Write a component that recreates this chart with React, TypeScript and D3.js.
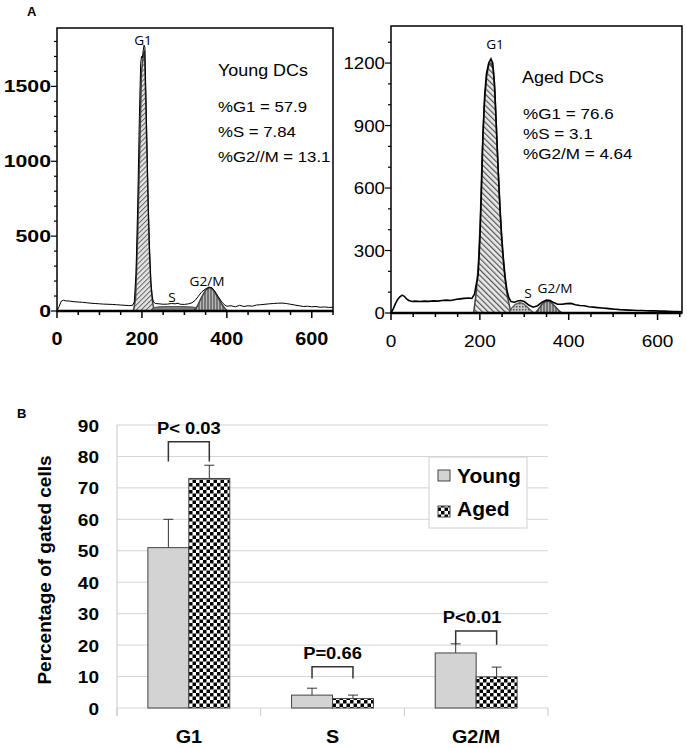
import React from "react";
import * as d3 from "d3";

// ---- panel A: DNA content histograms (channel, count) ----
const youngHist: [number, number][] = [
  [0, 0], [5, 30], [10, 65], [15, 72], [20, 68], [30, 66], [40, 62], [50, 60], [60, 58], [70, 55],
  [80, 52], [90, 50], [100, 48], [110, 46], [120, 45], [130, 44], [140, 42], [150, 40], [160, 38],
  [170, 36], [178, 38], [182, 60], [186, 250], [190, 700], [194, 1300], [197, 1650], [199, 1700],
  [201, 1690], [203, 1740], [205, 1775], [207, 1760], [209, 1500], [212, 1100], [215, 700], [218, 400],
  [221, 200], [224, 100], [227, 60], [232, 50], [240, 48], [250, 45], [260, 46], [270, 50], [278, 48],
  [285, 52], [290, 45], [300, 44], [310, 48], [318, 55], [325, 70], [332, 95], [340, 125], [350, 148],
  [358, 160], [365, 155], [372, 130], [380, 95], [388, 60], [395, 40], [400, 32], [410, 35], [420, 28],
  [430, 38], [440, 30], [450, 35], [460, 32], [470, 40], [480, 42], [490, 45], [500, 48], [510, 50],
  [520, 52], [530, 53], [540, 50], [550, 45], [560, 40], [570, 35], [580, 30], [590, 32], [600, 28],
  [610, 30], [620, 25], [630, 27], [640, 24], [650, 25]
];
const youngG1: [number, number][] = [
  [180, 0], [185, 80], [190, 500], [195, 1100], [199, 1600], [203, 1700], [206, 1740], [209, 1400],
  [213, 900], [217, 450], [221, 180], [225, 60], [229, 0]
];
const youngS: [number, number][] = [
  [222, 0], [228, 22], [240, 28], [260, 30], [280, 30], [300, 29], [320, 26], [335, 15], [340, 0]
];
const youngG2: [number, number][] = [
  [322, 0], [330, 30], [340, 90], [350, 140], [358, 155], [365, 150], [372, 125], [380, 85], [388, 45],
  [396, 15], [402, 0]
];

const agedHist: [number, number][] = [
  [0, 0], [5, 20], [10, 45], [15, 65], [20, 78], [25, 86], [30, 80], [35, 68], [40, 60], [47, 55],
  [55, 57], [65, 55], [75, 57], [85, 56], [95, 58], [105, 57], [115, 60], [125, 62], [135, 60],
  [145, 65], [155, 68], [165, 70], [175, 72], [182, 70], [188, 90], [192, 140], [196, 180], [200, 350],
  [204, 620], [207, 860], [211, 1050], [215, 1150], [220, 1200], [225, 1220], [229, 1200], [233, 1100],
  [237, 900], [241, 700], [245, 520], [249, 370], [253, 260], [257, 170], [261, 110], [265, 75],
  [270, 55], [278, 52], [285, 58], [292, 60], [300, 55], [310, 38], [320, 28], [330, 35], [340, 52],
  [350, 62], [358, 60], [366, 50], [375, 42], [385, 42], [395, 45], [405, 46], [415, 40], [425, 36],
  [435, 35], [445, 30], [455, 28], [465, 26], [475, 24], [485, 22], [495, 20], [505, 18], [515, 16],
  [525, 15], [535, 14], [545, 13], [555, 12], [565, 12], [575, 11], [585, 10], [595, 10], [605, 9],
  [615, 9], [625, 8], [635, 7], [645, 7], [655, 6]
];
const agedG1: [number, number][] = [
  [186, 0], [192, 100], [197, 250], [201, 450], [205, 750], [210, 1000], [215, 1130], [220, 1190],
  [225, 1200], [230, 1170], [234, 1050], [238, 850], [242, 650], [246, 470], [250, 330], [254, 220],
  [258, 140], [262, 80], [266, 40], [270, 0]
];
const agedS: [number, number][] = [
  [265, 0], [272, 25], [280, 42], [290, 50], [298, 45], [306, 30], [315, 12], [322, 0]
];
const agedG2: [number, number][] = [
  [325, 0], [332, 20], [340, 42], [348, 55], [355, 56], [362, 48], [370, 30], [378, 12], [385, 0]
];

const youngStats = ["%G1 = 57.9", "%S = 7.84", "%G2//M = 13.1"];
const agedStats = ["%G1 = 76.6", "%S = 3.1", "%G2/M = 4.64"];
const youngYTicks = [0, 500, 1000, 1500];
const agedYTicks = [0, 300, 600, 900, 1200];
const xTicks = [0, 200, 400, 600];

// ---- panel B: bar chart ----
const phases = ["G1", "S", "G2/M"];
const groups = ["Young", "Aged"];
const youngPct = [51, 4.1, 17.5];
const agedPct = [73, 3, 9.9];
const youngErr = [9, 2.2, 2.9];
const agedErr = [4.2, 1.1, 3.1];
const pLabels = ["P< 0.03", "P=0.66", "P<0.01"];
const bracketTop = [84.7, 13.1, 24.5];
const bracketLeg = [78.4, 9.4, 20.1];
const pctTicks = [0, 10, 20, 30, 40, 50, 60, 70, 80, 90];

const SANS = "'Liberation Sans', Arial, sans-serif";

function T(props: any) {
  const { x, y, sx = 1, anchor = "start", size = 14, weight = "normal", family = SANS, fill = "#000", children } = props;
  return (
    <text transform={`translate(${x},${y}) scale(${sx},1)`} textAnchor={anchor} fontSize={size}
      fontWeight={weight} fontFamily={family} fill={fill}>{children}</text>
  );
}

function Histogram(props: any) {
  const { x, y, hist, g1, s, g2, yTicks, yMinor, g1Fill, sFill, g2Fill, bold, stats, title, titleX, statX,
    statY, statGap, statSize, statSx, labels, lineW, yLab, xLab } = props;
  const line = d3.line<[number, number]>().x(d => x(d[0])).y(d => y(d[1]));
  const area = d3.area<[number, number]>().x(d => x(d[0])).y0(y(0)).y1(d => y(d[1]));
  const [x0, x1] = x.range();
  const [y0, y1] = y.range();
  const minorX = d3.range(0, x.domain()[1] + 1, 50);
  const minorY = d3.range(0, y.domain()[1], yMinor);
  const fw = bold ? "bold" : "normal";
  return (
    <g>
      <path d={area(g1) || ""} fill={g1Fill} stroke="#444" strokeWidth={1.5} />
      <path d={area(s) || ""} fill={sFill} stroke="#555" strokeWidth={1.2} />
      <path d={area(g2) || ""} fill={g2Fill} stroke="#444" strokeWidth={1.5} />
      <path d={line(hist) || ""} fill="none" stroke="#000" strokeWidth={lineW} />
      <rect x={x0} y={y1} width={x1 - x0} height={y0 - y1} fill="none" stroke="#000" strokeWidth={1.5} />
      <line x1={x0} x2={x1} y1={y0} y2={y0} stroke="#000" strokeWidth={2.5} />
      {minorX.map(v => (
        <line key={"mx" + v} x1={x(v)} x2={x(v)} y1={y0} y2={y0 + (v % 200 === 0 ? 7 : 4)} stroke="#000" strokeWidth={1.5} />
      ))}
      {minorY.map(v => (
        <line key={"my" + v} x1={x0} x2={x0 - (yTicks.includes(v) ? 6 : 3)} y1={y(v)} y2={y(v)} stroke="#000" strokeWidth={1.2} />
      ))}
      {yTicks.map((v: number) => (
        <T key={"yt" + v} x={x0 - 6} y={y(v) + 6} anchor="end" size={yLab.size} weight={fw} sx={yLab.sx}>{v}</T>
      ))}
      {xTicks.map(v => (
        <T key={"xt" + v} x={x(v)} y={xLab.base} anchor="middle" size={xLab.size} weight={fw} sx={xLab.sx}>{v}</T>
      ))}
      <T x={titleX} y={statY - 36} size={16} sx={1.12}>{title}</T>
      {stats.map((t: string, i: number) => (
        <T key={t} x={statX} y={statY + i * statGap} size={statSize} sx={statSx}>{t}</T>
      ))}
      {labels.map((l: any) => (
        <T key={l.t} x={l.x} y={l.y} anchor="middle" size={13} family="'Open Sans', sans-serif" sx={1.05}>{l.t}</T>
      ))}
    </g>
  );
}

export default function App() {
  const xL = d3.scaleLinear().domain([0, 650]).range([57, 333]);
  const yL = d3.scaleLinear().domain([0, 1890]).range([311, 28]);
  const xR = d3.scaleLinear().domain([0, 655]).range([391, 682]);
  const yR = d3.scaleLinear().domain([0, 1378]).range([313, 26]);

  const xB = d3.scaleBand().domain(phases).range([117, 548]).paddingInner(0.43).paddingOuter(0.215);
  const xG = d3.scaleBand().domain(groups).range([0, xB.bandwidth()]);
  const yB = d3.scaleLinear().domain([0, 90]).range([708, 425]);
  const bw = xG.bandwidth();
  const cx = (p: string, g: string) => (xB(p) || 0) + (xG(g) || 0) + bw / 2;
  const bounds = [117, ...phases.map(p => (xB(p) || 0) + xB.bandwidth() + (xB.step() - xB.bandwidth()) / 2)];

  return (
    <svg width={687} height={748} style={{ position: "absolute", left: 0, top: 0, background: "#fff" }}>
      <defs>
        <pattern id="hatchUp" width={3.5} height={3.5} patternUnits="userSpaceOnUse" patternTransform="rotate(45)">
          <rect width={3.5} height={3.5} fill="#e4e4e4" />
          <line x1={0.5} y1={0} x2={0.5} y2={3.5} stroke="#666" strokeWidth={1} />
        </pattern>
        <pattern id="hatchDown" width={4} height={4} patternUnits="userSpaceOnUse" patternTransform="rotate(-45)">
          <rect width={4} height={4} fill="#e8e8e8" />
          <line x1={0.6} y1={0} x2={0.6} y2={4} stroke="#555" strokeWidth={1.2} />
        </pattern>
        <pattern id="vstripe" width={3} height={3} patternUnits="userSpaceOnUse">
          <rect width={3} height={3} fill="#b8b8b8" />
          <line x1={1} y1={0} x2={1} y2={3} stroke="#333" strokeWidth={1} />
        </pattern>
        <pattern id="dots" width={3} height={3} patternUnits="userSpaceOnUse">
          <rect width={3} height={3} fill="#c8c8c8" />
          <rect width={1.5} height={1.5} fill="#555" />
        </pattern>
        <pattern id="checker" width={7} height={7} patternUnits="userSpaceOnUse" x={0} y={0}>
          <rect width={7} height={7} fill="#fff" />
          <rect width={3.5} height={3.5} fill="#000" />
          <rect x={3.5} y={3.5} width={3.5} height={3.5} fill="#000" />
        </pattern>
      </defs>

      <T x={27} y={16} size={13} weight="bold">A</T>
      <Histogram x={xL} y={yL} hist={youngHist} g1={youngG1} s={youngS} g2={youngG2}
        yTicks={youngYTicks} yMinor={100} g1Fill="url(#hatchUp)" sFill="#808080" g2Fill="url(#vstripe)"
        bold={true} stats={youngStats} title="Young DCs" titleX={218} statX={218} statY={112} statGap={25}
        statSize={15} statSx={1.12} lineW={1}
        yLab={{ size: 17, sx: 1.25 }} xLab={{ size: 18, sx: 1.1, base: 345 }}
        labels={[{ t: "G1", x: 143, y: 45 }, { t: "S", x: 172, y: 302 }, { t: "G2/M", x: 207, y: 286 }]} />
      <Histogram x={xR} y={yR} hist={agedHist} g1={agedG1} s={agedS} g2={agedG2}
        yTicks={agedYTicks} yMinor={100} g1Fill="url(#hatchDown)" sFill="url(#dots)" g2Fill="url(#vstripe)"
        bold={false} stats={agedStats} title="Aged DCs" titleX={522} statX={523} statY={119} statGap={20}
        statSize={14} statSx={1.22} lineW={1.6}
        yLab={{ size: 17, sx: 1.1 }} xLab={{ size: 17, sx: 1.12, base: 347 }}
        labels={[{ t: "G1", x: 495, y: 49 }, { t: "S", x: 528, y: 298 }, { t: "G2/M", x: 555, y: 293 }]} />

      {/* panel B */}
      <T x={17} y={418} size={13} weight="bold">B</T>
      {pctTicks.map(v => (
        <g key={"g" + v}>
          <line x1={117} x2={548} y1={yB(v)} y2={yB(v)} stroke="#d4d4d4" strokeWidth={1} />
          <T x={99} y={yB(v) + 6.5} anchor="end" size={17} weight="bold" sx={1.12}>{v}</T>
        </g>
      ))}
      <line x1={117} x2={117} y1={yB(90)} y2={yB(0) + 8} stroke="#c8c8c8" strokeWidth={1} />
      {bounds.map(b => (
        <line key={"b" + b} x1={b} x2={b} y1={yB(0)} y2={yB(0) + 8} stroke="#c8c8c8" strokeWidth={1} />
      ))}
      <text transform="translate(51,570) rotate(-90)" textAnchor="middle" fontSize={19} fontWeight="bold"
        fontFamily={SANS}>Percentage of gated cells</text>

      {phases.map((p, i) => (
        <g key={p}>
          {[youngPct[i], agedPct[i]].map((v, j) => {
            const g = groups[j];
            const e = j === 0 ? youngErr[i] : agedErr[i];
            const c = cx(p, g);
            return (
              <g key={g}>
                <line x1={c} x2={c} y1={yB(v)} y2={yB(v + e)} stroke="#333" strokeWidth={1} />
                <line x1={c - 5} x2={c + 5} y1={yB(v + e)} y2={yB(v + e)} stroke="#333" strokeWidth={1} />
                <rect x={(xB(p) || 0) + (xG(g) || 0)} y={yB(v)} width={bw} height={yB(0) - yB(v)}
                  fill={j === 0 ? "#d3d3d3" : "url(#checker)"} stroke="#444" strokeWidth={1} />
              </g>
            );
          })}
          <path d={`M${cx(p, "Young")},${yB(bracketLeg[i])}V${yB(bracketTop[i])}H${cx(p, "Aged")}V${yB(bracketLeg[i])}`}
            fill="none" stroke="#333" strokeWidth={1.5} />
          <T x={(cx(p, "Young") + cx(p, "Aged")) / 2 - (i === 2 ? 4 : 0)} y={yB(bracketTop[i]) - 8} anchor="middle"
            size={17} weight="bold" sx={1.08}>{pLabels[i]}</T>
          <T x={(xB(p) || 0) + xB.bandwidth() / 2} y={743} anchor="middle" size={18} weight="bold" sx={1.1}>{p}</T>
        </g>
      ))}

      {/* legend */}
      <rect x={429} y={457} width={98} height={71} fill="#fff" stroke="#d0d0d0" strokeWidth={1} />
      {groups.map((g, i) => (
        <g key={g}>
          <rect x={438} y={470 + i * 36} width={12} height={11} fill={i === 0 ? "#d3d3d3" : "url(#checker)"}
            stroke="#444" strokeWidth={1} />
          <T x={457} y={483 + i * 33} size={21} weight="bold">{g}</T>
        </g>
      ))}
    </svg>
  );
}
